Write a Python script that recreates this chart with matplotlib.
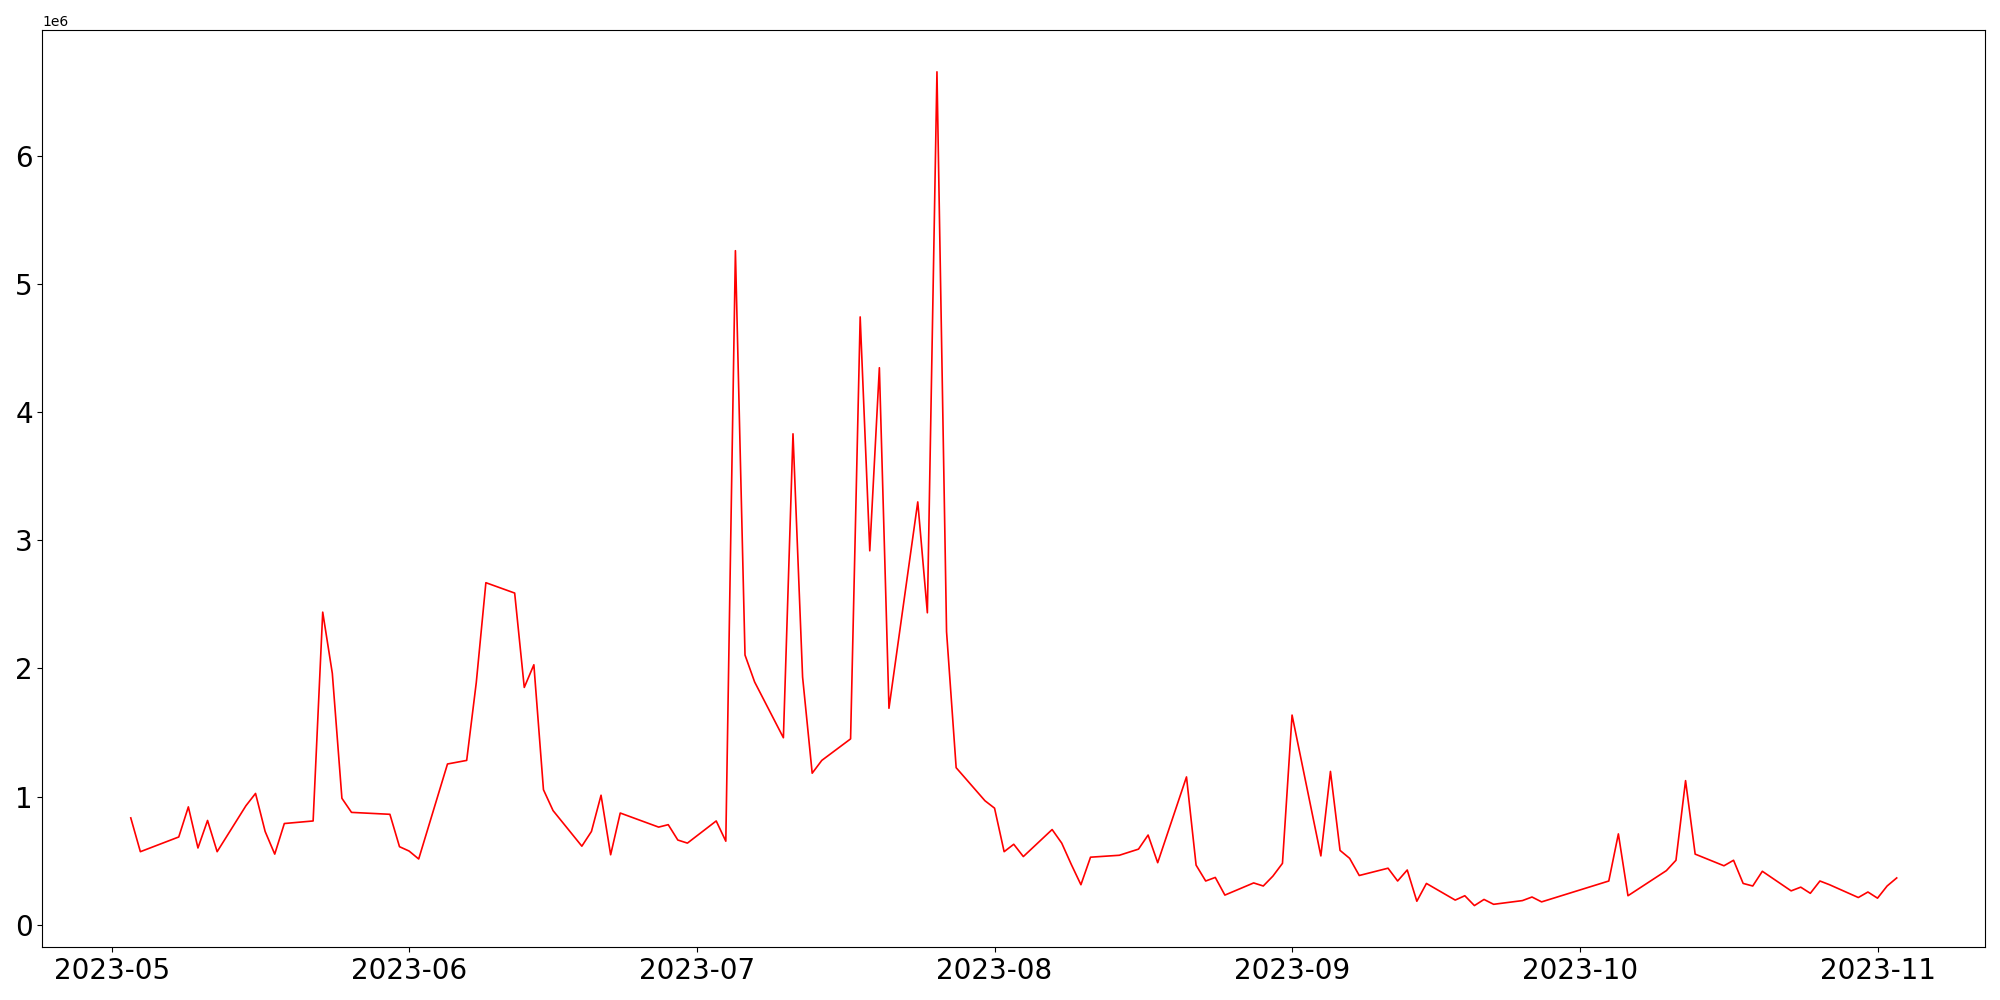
import pandas as pd
import matplotlib.pyplot as plt

dates = ['2023-05-03', '2023-05-04', '2023-05-08', '2023-05-09', '2023-05-10', '2023-05-11',
         '2023-05-12', '2023-05-15', '2023-05-16', '2023-05-17', '2023-05-18', '2023-05-19',
         '2023-05-22', '2023-05-23', '2023-05-24', '2023-05-25', '2023-05-26', '2023-05-30',
         '2023-05-31', '2023-06-01', '2023-06-02', '2023-06-05', '2023-06-07', '2023-06-08',
         '2023-06-09', '2023-06-12', '2023-06-13', '2023-06-14', '2023-06-15', '2023-06-16',
         '2023-06-19', '2023-06-20', '2023-06-21', '2023-06-22', '2023-06-23', '2023-06-27',
         '2023-06-28', '2023-06-29', '2023-06-30', '2023-07-03', '2023-07-04', '2023-07-05',
         '2023-07-06', '2023-07-07', '2023-07-10', '2023-07-11', '2023-07-12', '2023-07-13',
         '2023-07-14', '2023-07-17', '2023-07-18', '2023-07-19', '2023-07-20', '2023-07-21',
         '2023-07-24', '2023-07-25', '2023-07-26', '2023-07-27', '2023-07-28', '2023-07-31',
         '2023-08-01', '2023-08-02', '2023-08-03', '2023-08-04', '2023-08-07', '2023-08-08',
         '2023-08-09', '2023-08-10', '2023-08-11', '2023-08-14', '2023-08-16', '2023-08-17',
         '2023-08-18', '2023-08-21', '2023-08-22', '2023-08-23', '2023-08-24', '2023-08-25',
         '2023-08-28', '2023-08-29', '2023-08-30', '2023-08-31', '2023-09-01', '2023-09-04',
         '2023-09-05', '2023-09-06', '2023-09-07', '2023-09-08', '2023-09-11', '2023-09-12',
         '2023-09-13', '2023-09-14', '2023-09-15', '2023-09-18', '2023-09-19', '2023-09-20',
         '2023-09-21', '2023-09-22', '2023-09-25', '2023-09-26', '2023-09-27', '2023-10-04',
         '2023-10-05', '2023-10-06', '2023-10-10', '2023-10-11', '2023-10-12', '2023-10-13',
         '2023-10-16', '2023-10-17', '2023-10-18', '2023-10-19', '2023-10-20', '2023-10-23',
         '2023-10-24', '2023-10-25', '2023-10-26', '2023-10-27', '2023-10-30', '2023-10-31',
         '2023-11-01', '2023-11-02', '2023-11-03']

values = [833000, 569000, 684000, 919000, 598000, 813000,
          569000, 928000, 1024000, 727000, 550000, 789000,
          809000, 2440000, 1962000, 986000, 876000, 861000,
          608000, 574000, 512000, 1254000, 1282000, 1890000,
          2670000, 2589000, 1852000, 2029000, 1053000, 890000,
          612000, 727000, 1010000, 545000, 871000, 761000,
          780000, 660000, 636000, 809000, 651000, 5263000,
          2105000, 1895000, 1459000, 3833000, 1933000, 1182000,
          1282000, 1450000, 4746000, 2919000, 4349000, 1689000,
          3301000, 2435000, 6660000, 2287000, 1225000, 967000,
          909000, 569000, 627000, 531000, 742000, 636000,
          469000, 311000, 526000, 541000, 589000, 699000,
          483000, 1153000, 464000, 340000, 368000, 230000,
          325000, 301000, 378000, 478000, 1636000, 536000,
          1196000, 579000, 517000, 383000, 440000, 340000,
          426000, 182000, 321000, 191000, 225000, 148000,
          196000, 158000, 187000, 215000, 177000, 340000,
          708000, 225000, 421000, 502000, 1124000, 550000,
          459000, 502000, 321000, 301000, 416000, 263000,
          292000, 244000, 340000, 311000, 211000, 254000,
          206000, 301000, 364000]

df = pd.DataFrame({'date': pd.to_datetime(dates), 'value': values})

fig, ax = plt.subplots(figsize=(20, 10), dpi=100)
ax.plot(df.date, df.value, color='red', linewidth=1.2)
ax.tick_params(axis='both', labelsize=20)
plt.tight_layout()
plt.savefig('out.png')
